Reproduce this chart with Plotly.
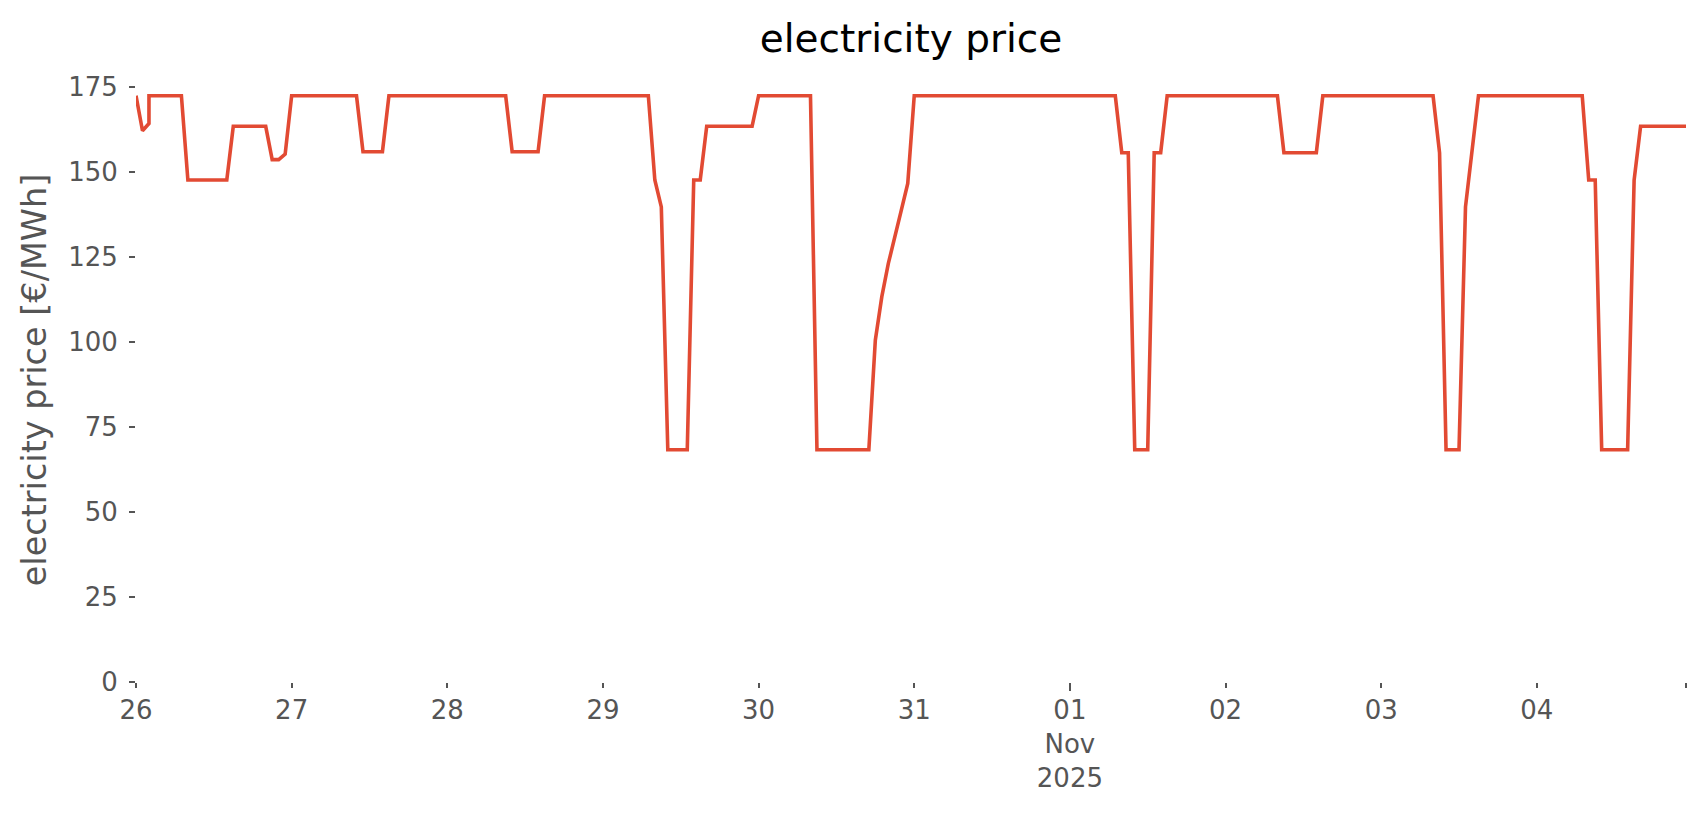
import plotly.graph_objects as go

# vertices of the price curve (local time, hourly data; 02:00 on Oct 26 appears twice - DST)
time = [
    "2025-10-26 00:00", "2025-10-26 01:00", "2025-10-26 02:00", "2025-10-26 02:00",
    "2025-10-26 07:00", "2025-10-26 08:00", "2025-10-26 14:00", "2025-10-26 15:00",
    "2025-10-26 20:00", "2025-10-26 21:00", "2025-10-26 22:00", "2025-10-26 23:00",
    "2025-10-27 00:00", "2025-10-27 10:00", "2025-10-27 11:00", "2025-10-27 14:00",
    "2025-10-27 15:00", "2025-10-28 09:00", "2025-10-28 10:00", "2025-10-28 14:00",
    "2025-10-28 15:00", "2025-10-29 07:00", "2025-10-29 08:00", "2025-10-29 09:00",
    "2025-10-29 10:00", "2025-10-29 13:00", "2025-10-29 14:00", "2025-10-29 15:00",
    "2025-10-29 16:00", "2025-10-29 23:00", "2025-10-30 00:00", "2025-10-30 08:00",
    "2025-10-30 09:00", "2025-10-30 17:00", "2025-10-30 18:00", "2025-10-30 19:00",
    "2025-10-30 20:00", "2025-10-30 21:00", "2025-10-30 22:00", "2025-10-30 23:00",
    "2025-10-31 00:00", "2025-11-01 07:00", "2025-11-01 08:00", "2025-11-01 09:00",
    "2025-11-01 10:00", "2025-11-01 12:00", "2025-11-01 13:00", "2025-11-01 14:00",
    "2025-11-01 15:00", "2025-11-02 08:00", "2025-11-02 09:00", "2025-11-02 14:00",
    "2025-11-02 15:00", "2025-11-03 08:00", "2025-11-03 09:00", "2025-11-03 10:00",
    "2025-11-03 12:00", "2025-11-03 13:00", "2025-11-03 15:00", "2025-11-04 07:00",
    "2025-11-04 08:00", "2025-11-04 09:00", "2025-11-04 10:00", "2025-11-04 14:00",
    "2025-11-04 15:00", "2025-11-04 16:00", "2025-11-04 23:00",
]
price = [
    172.4, 162.1, 164.2, 172.4,
    172.4, 147.6, 147.6, 163.4,
    163.4, 153.6, 153.6, 155.2,
    172.4, 172.4, 155.9, 155.9,
    172.4, 172.4, 155.9, 155.9,
    172.4, 172.4, 147.6, 139.7,
    68.3, 68.3, 147.6, 147.6,
    163.4, 163.4, 172.4, 172.4,
    68.3, 68.3, 100.5, 113.3,
    123.0, 131.4, 138.7, 146.6,
    172.4, 172.4, 155.6, 155.6,
    68.3, 68.3, 155.6, 155.6,
    172.4, 172.4, 155.6, 155.6,
    172.4, 172.4, 155.6, 68.3,
    68.3, 139.7, 172.4, 172.4,
    147.6, 147.6, 68.3, 68.3,
    147.6, 163.4, 163.4,
]

x_tick_vals = ["2025-10-26", "2025-10-27", "2025-10-28", "2025-10-29", "2025-10-30",
               "2025-10-31", "2025-11-01", "2025-11-02", "2025-11-03", "2025-11-04",
               "2025-11-04 23:00"]
x_tick_text = ["26", "27", "28", "29", "30", "31", "01<br>Nov<br>2025", "02", "03", "04", ""]
y_tick_vals = [0, 25, 50, 75, 100, 125, 150, 175]

FONT = "DejaVu Sans"
GREY = "#555555"

fig = go.Figure()
fig.add_trace(go.Scatter(
    x=time, y=price, mode="lines",
    line=dict(color="#E24A33", width=3.6),
    hoverinfo="x+y", showlegend=False,
))

fig.update_layout(
    width=1706, height=815,
    margin=dict(l=136, r=20, t=78, b=133),
    paper_bgcolor="white", plot_bgcolor="white",
    font=dict(family=FONT, color=GREY),
    title=dict(text="electricity price", x=0.5, xref="paper", xanchor="center",
               y=1 - 38 / 815, yanchor="middle",
               font=dict(family=FONT, size=39, color="black")),
)
fig.update_xaxes(
    range=["2025-10-26 00:00", "2025-11-04 23:00"],
    tickmode="array", tickvals=x_tick_vals, ticktext=x_tick_text,
    ticks="outside", ticklen=5, tickwidth=2, tickcolor=GREY,
    tickfont=dict(family=FONT, size=26, color=GREY),
    showgrid=False, zeroline=False, showline=False,
    minor=dict(tickmode="array", tickvals=["2025-11-01"], ticks="outside",
               ticklen=8, tickwidth=2, tickcolor=GREY, showgrid=False),
)
fig.update_yaxes(
    range=[0, 177.6],
    tickmode="array", tickvals=y_tick_vals,
    ticks="outside", ticklen=6, tickwidth=2, tickcolor=GREY,
    ticklabelstandoff=6,
    tickfont=dict(family=FONT, size=26, color=GREY),
    title=dict(text="electricity price [€/MWh]", standoff=11,
               font=dict(family=FONT, size=33.5, color=GREY)),
    showgrid=False, zeroline=False, showline=False,
)

fig.write_html("out.html", config={"displayModeBar": False},
               post_script="document.body.style.margin='0';")
